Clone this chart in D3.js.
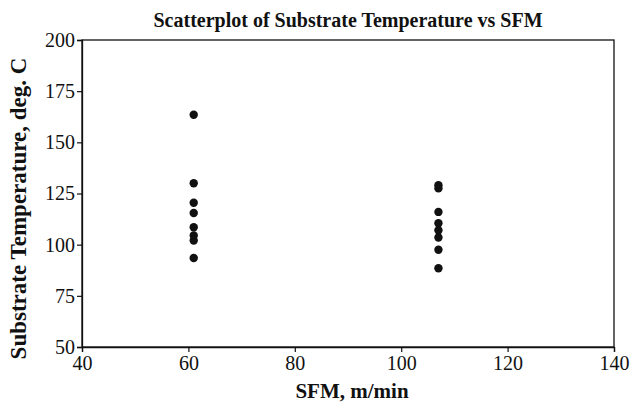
<!DOCTYPE html>
<html><head><meta charset="utf-8">
<script src="https://cdn.jsdelivr.net/npm/d3@7"></script>
<style>body{margin:0;background:#fff}svg{display:block}</style>
</head><body>
<svg id="c" width="630" height="404"></svg>
<script>
const sfmA = 61;
const sfmB = 107;
const tempA = [163.5, 130, 120.5, 115.5, 108.5, 104.5, 102, 93.5];
const tempB = [129, 127.5, 116, 110.5, 107, 103.5, 97.5, 88.5];
const xTicks = [40, 60, 80, 100, 120, 140];
const yTicks = [50, 75, 100, 125, 150, 175, 200];
const title = "Scatterplot of Substrate Temperature vs SFM";
const xLabel = "SFM, m/min";
const yLabel = "Substrate Temperature, deg. C";

const points = tempA.map(t => ({x: sfmA, y: t})).concat(tempB.map(t => ({x: sfmB, y: t})));

const L = 82, R = 614, T = 40, B = 347;
const svg = d3.select("#c");
const x = d3.scaleLinear().domain([40, 140]).range([L, R]);
const y = d3.scaleLinear().domain([50, 200]).range([B, T]);
const font = "'Liberation Serif', 'Times New Roman', Times, serif";

svg.append("rect").attr("x", L).attr("y", T).attr("width", R - L).attr("height", B - T)
  .attr("fill", "none").attr("stroke", "#111").attr("stroke-width", 1.3);

const xa = svg.append("g").attr("transform", `translate(0,${B})`)
  .call(d3.axisBottom(x).tickValues(xTicks).tickFormat(d3.format("d")).tickSize(5).tickPadding(4));
const ya = svg.append("g").attr("transform", `translate(${L},0)`)
  .call(d3.axisLeft(y).tickValues(yTicks).tickFormat(d3.format("d")).tickSize(5).tickPadding(2));
[xa, ya].forEach(a => {
  a.attr("font-family", font).attr("font-size", 20);
  a.select(".domain").attr("stroke", "#111").attr("stroke-width", 1.3);
  a.selectAll(".tick line").attr("stroke", "#111").attr("stroke-width", 1.2);
  a.selectAll(".tick text").attr("fill", "#111").attr("font-family", font).attr("font-size", 20);
});

svg.append("g").selectAll("circle").data(points).join("circle")
  .attr("cx", d => x(d.x)).attr("cy", d => y(d.y)).attr("r", 4.2).attr("fill", "#111");

svg.append("text").attr("x", (L + R) / 2).attr("y", 27).attr("text-anchor", "middle")
  .attr("font-family", font).attr("font-weight", "bold").attr("font-size", 20).attr("fill", "#111").text(title);
svg.append("text").attr("x", (L + R) / 2 + 4).attr("y", 398).attr("text-anchor", "middle")
  .attr("font-family", font).attr("font-weight", "bold").attr("font-size", 21).attr("fill", "#111").text(xLabel);
svg.append("text").attr("transform", `translate(26,${(T + B) / 2 + 15}) rotate(-90)`).attr("text-anchor", "middle")
  .attr("font-family", font).attr("font-weight", "bold").attr("font-size", 23).attr("fill", "#111").text(yLabel);
</script>
</body></html>
